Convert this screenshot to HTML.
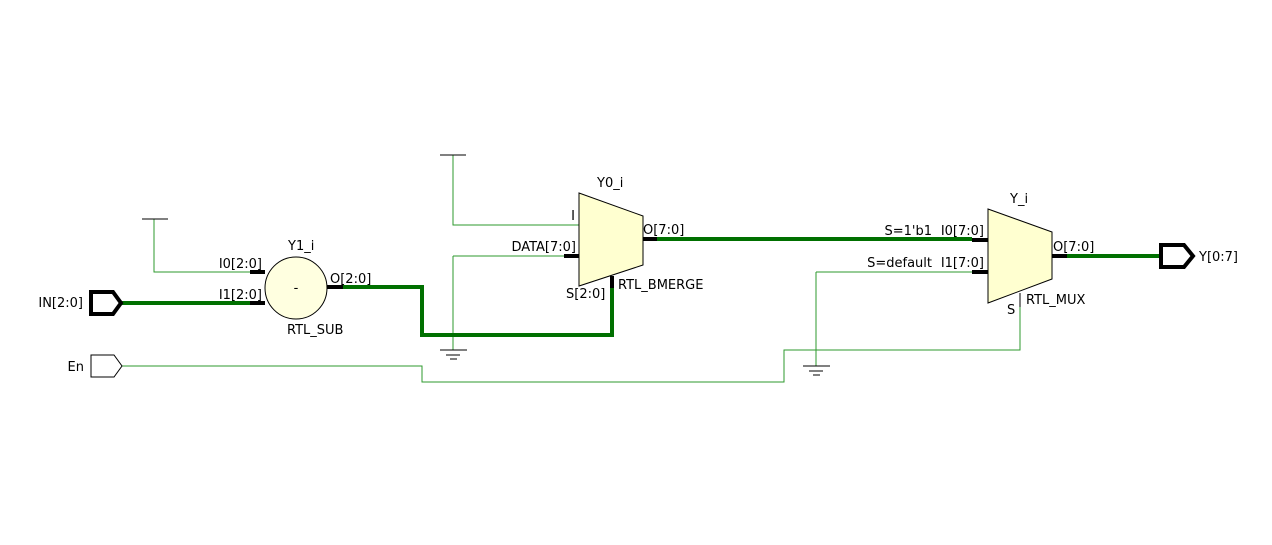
<!DOCTYPE html>
<html><head><style>
html,body{margin:0;padding:0;background:#fff;}
svg{display:block;}
text{font-family:"DejaVu Sans","Liberation Sans",sans-serif;font-size:13px;fill:#000;}
</style></head><body>
<svg width="1272" height="545" viewBox="0 0 1272 545" xmlns="http://www.w3.org/2000/svg">
<g fill="none" stroke="#2e9a2e" stroke-width="1">
<path d="M154 219V272H250"/>
<path d="M453 155V225H579"/>
<path d="M453 256V350"/>
<path d="M453 256H564"/>
<path d="M816 272H972"/>
<path d="M816 272V366"/>
<path d="M122 366H422V382H784V350H1020V293"/>
</g>
<g fill="none" stroke="#007000" stroke-width="4">
<path d="M121 303H250"/>
<path d="M343 287H422V335H612V287"/>
<path d="M657 239H972"/>
<path d="M1067 256H1160"/>
</g>
<g stroke="#000" stroke-width="1">
<path d="M142 219H168"/>
<path d="M440 155H466"/>
<path d="M440 350H467M446 355H460M450 359H457"/>
<path d="M803 366H830M809 371H823M813 375H820"/>
</g>
<g stroke="#000" stroke-width="4">
<path d="M250 272H265M250 303H265M327 287H343"/>
<path d="M564 256H579M643 239H657M612 276V288"/>
<path d="M972 240H988M972 272H988M1052 256H1067"/>
</g>
<path d="M1020 293V307" stroke="#000" stroke-width="1"/>
<circle cx="296" cy="288" r="31" fill="#ffffe0" stroke="#000" stroke-width="1"/>
<path d="M579 193L643 216V265L579 286Z" fill="#ffffd0" stroke="#000" stroke-width="1"/>
<path d="M988 209L1052 232V279L988 303Z" fill="#ffffd0" stroke="#000" stroke-width="1"/>
<path d="M91 292H113L121 303L113 314H91Z" fill="#fff" stroke="#000" stroke-width="4"/>
<path d="M91 355H114L122 366L114 377H91Z" fill="#fff" stroke="#000" stroke-width="1"/>
<path d="M1161 245H1184L1193 256L1184 267H1161Z" fill="#fff" stroke="#000" stroke-width="4"/>
<text x="296" y="292" text-anchor="middle">-</text>
<text x="288" y="250">Y1_i</text>
<text x="262" y="268" text-anchor="end">I0[2:0]</text>
<text x="262" y="299" text-anchor="end">I1[2:0]</text>
<text x="330" y="283">O[2:0]</text>
<text x="287" y="334">RTL_SUB</text>
<text x="83" y="307" text-anchor="end">IN[2:0]</text>
<text x="84" y="371" text-anchor="end">En</text>
<text x="597" y="187">Y0_i</text>
<text x="575" y="220" text-anchor="end">I</text>
<text x="576" y="251" text-anchor="end">DATA[7:0]</text>
<text x="643" y="234">O[7:0]</text>
<text x="566" y="298">S[2:0]</text>
<text x="618" y="289">RTL_BMERGE</text>
<text x="1010" y="203">Y_i</text>
<text x="932" y="235" text-anchor="end">S=1'b1</text>
<text x="984" y="235" text-anchor="end">I0[7:0]</text>
<text x="932" y="267" text-anchor="end">S=default</text>
<text x="984" y="267" text-anchor="end">I1[7:0]</text>
<text x="1053" y="251">O[7:0]</text>
<text x="1007" y="314">S</text>
<text x="1026" y="304">RTL_MUX</text>
<text x="1199" y="261">Y[0:7]</text>
</svg>
</body></html>
